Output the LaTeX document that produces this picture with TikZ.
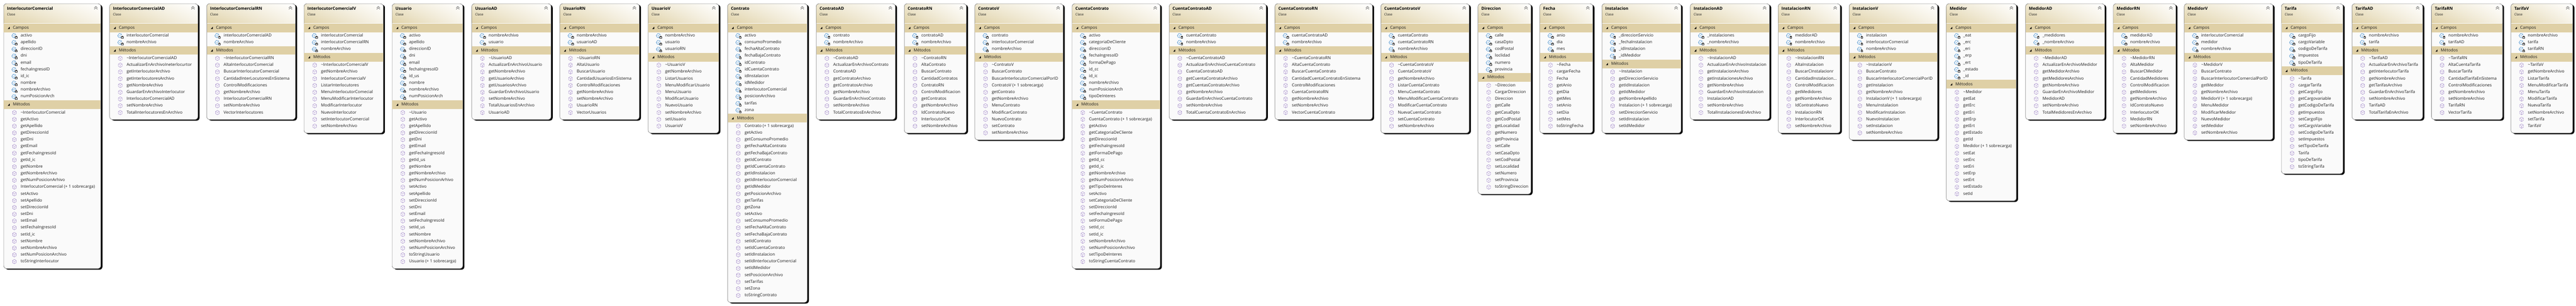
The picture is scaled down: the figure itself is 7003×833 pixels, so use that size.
\documentclass[tikz,border=0pt]{standalone}
\usepackage{fontspec}
\setmainfont{Open Sans}
\usetikzlibrary{shadings}

\definecolor{hdrtan}{HTML}{E0D2A8}
\definecolor{hdrpale}{HTML}{EFE8D2}
\definecolor{hdrlight}{HTML}{F7F3E8}
\definecolor{bandtan}{HTML}{DFD0A6}
\definecolor{bodygrey}{HTML}{FAFAFA}
\definecolor{edgegrey}{HTML}{7F7F7F}
\definecolor{inktext}{HTML}{1E1E1E}
\definecolor{fieldblue}{HTML}{4A90CC}
\definecolor{methodpurple}{HTML}{9A80C2}

\newcommand{\threedots}{...}

\tikzset{
    titletxt/.style={anchor=west,inner sep=0pt,text=black,font=\fontsize{11.3}{13}\selectfont\bfseries,text height=9pt,text depth=3pt},
    kindtxt/.style={anchor=west,inner sep=0pt,text=inktext,font=\fontsize{9}{10}\selectfont,text height=7pt,text depth=2pt},
    rowtxt/.style={anchor=west,inner sep=0pt,text=inktext,font=\fontsize{11.3}{13}\selectfont,text height=9pt,text depth=3pt},
    fieldicon/.pic={
        \draw[fieldblue,line width=0.9pt,fill=white,line join=round] (-7,0) -- (-3,-5.5) -- (3,-4.5) -- (4,1) -- (0,6) -- (-5,4) -- cycle;
        \draw[fieldblue,line width=0.5pt] (-7,0) -- (-1,0) -- (3,-4.5) (-1,0) -- (0,6);
        \fill[white] (1.5,0) rectangle (8.5,7.5);
        \draw[black!80,line width=0.5pt] (2.5,3) rectangle (7.5,7);
        \draw[black!80,line width=0.5pt] (3.5,3) -- (3.5,0.8) -- (6.5,0.8) -- (6.5,3);
    },
    methodicon/.pic={
        \draw[methodpurple,line width=0.7pt,fill=white,line join=round] (0,-6) -- (5,-3) -- (5,3) -- (0,6) -- (-5,3) -- (-5,-3) -- cycle;
        \draw[methodpurple,line width=0.5pt] (-5,-3) -- (0,0) -- (5,-3) (0,0) -- (0,6);
    },
}

% #1 id, #2 title, #3 left, #4 right, #5 fields, #6 methods
\newcommand{\classbox}[6]{%
    \foreach \fld [count=\i] in {#5} {\xdef\nfld{\i}}
    \foreach \mth [count=\i] in {#6} {\xdef\nmth{\i}}
    \pgfmathsetmacro\bandtop{97+(\nfld-1)*18.45+10}
    \pgfmathsetmacro\firstrow{\bandtop+33.5}
    \pgfmathsetmacro\boxbot{\firstrow+(\nmth-1)*18.45+19}
    % shadow, body and header
    \fill[black,rounded corners=8pt] (#3+4.5,13) rectangle (#4+4.5,\boxbot+3);
    \fill[bodygrey,rounded corners=8pt] (#3,10) rectangle (#4,\boxbot);
    \shade[lower left=hdrtan,lower right=hdrlight,upper left=hdrpale,upper right=white]
        (#3,63) [rounded corners=8pt] -- (#3,10) -- (#4,10) [sharp corners] -- (#4,63) -- cycle;
    \draw[edgegrey,line width=0.9pt,rounded corners=8pt] (#3,10) rectangle (#4,\boxbot);
    \draw[black!65,line width=0.9pt] (#4-18,21.5) -- (#4-13.5,17.5) -- (#4-9,21.5) (#4-18,25.5) -- (#4-13.5,21.5) -- (#4-9,25.5);
    \node[titletxt] (#1-title) at (#3+9,23.7) {#2};
    \node[kindtxt] (#1-kind) at (#3+9,39.7) {Clase};
    % Campos
    \fill[bandtan] (#3+0.5,64) rectangle (#4-0.5,88);
    \fill[black] (#3+16.5,73) -- (#3+16.5,79) -- (#3+11,79) -- cycle;
    \node[rowtxt] (#1-campos) at (#3+25,76) {Campos};
    \foreach \fld [count=\i] in {#5} {
        \pgfmathsetmacro\yrow{97+(\i-1)*18.45}
        \pic at (#3+29,\yrow) {fieldicon};
        \node[rowtxt] (#1-f\i) at (#3+46,\yrow) {\fld};
    }
    % Metodos
    \fill[bandtan] (#3+0.5,\bandtop) rectangle (#4-0.5,\bandtop+23.5);
    \fill[black] (#3+16.5,\bandtop+9) -- (#3+16.5,\bandtop+15) -- (#3+11,\bandtop+15) -- cycle;
    \node[rowtxt] (#1-metodos) at (#3+25,\bandtop+12) {Métodos};
    \foreach \mth [count=\i] in {#6} {
        \pgfmathsetmacro\yrow{\firstrow+(\i-1)*18.45}
        \pic at (#3+29,\yrow) {methodicon};
        \node[rowtxt] (#1-m\i) at (#3+46,\yrow) {\mth};
    }
}

\begin{document}
\begin{tikzpicture}[x=1pt,y=-1pt]
    \useasboundingbox (0,0) rectangle (7003,833);

    \classbox{ic}{InterlocutorComercial}{10}{274}
        {activo,apellido,direccionID,dni,email,fechaIngresoID,id\_ic,nombre,nombreArchivo,numPosicionArch}
        {\textasciitilde InterlocutorComercial,getActivo,getApellido,getDireccionId,getDni,getEmail,getFechaIngresoId,getId\_ic,getNombre,getNombreArchivo,getNumPosicionArhivo,InterlocutorComercial (+ 1 sobrecarga),setActivo,setApellido,setDireccionId,setDni,setEmail,setFechaIngresoId,setId\_ic,setNombre,setNombreArchivo,setNumPosicionArchivo,toStringInterlocutor}
    \classbox{icad}{InterlocutorComercialAD}{298}{538}
        {interlocutorComercial,nombreArchivo}
        {\textasciitilde InterlocutorComercialAD,ActualizarEnArchivoIneterlocurtor,getInterlocutorArchivo,getInterlocutoresArchivo,getNombreArchivo,GuardarEnArchivoInterlocutor,InterlocutorComercialAD,setNombreArchivo,TotalInterlocutoresEnArchivo}
    \classbox{icrn}{InterlocutorComercialRN}{562}{803}
        {interlocutorComercialAD,nombreArchivo}
        {\textasciitilde InterlocutorComercialRN,AltaInterlocutorComercial,BuscarInterlocutorComercial,CantidadInterLocutoresEnSistema,ControlModificaciones,getNombreArchivo,InterlocutorComercialRN,setNombreArchivo,VectorInterlocutores}
    \classbox{icv}{InterlocutorComercialV}{826.5}{1042}
        {interlocutorComercial,interlocutorComercialRN,nombreArchivo}
        {\textasciitilde InterlocutorComercialV,getNombreArchivo,InterlocutorComercialV,ListarInterlocutores,MenuInterlocutorComecial,MenuModificarInterlocutor,ModificarInterlocutor,NuevoInterlocutor,setInterlocutorComercial,setNombreArchivo}

    \classbox{us}{Usuario}{1066}{1258}
        {activo,apellido,direccionID,dni,email,fechaIngresoID,id\_us,nombre,nombreArchivo,numPosicionArch}
        {\textasciitilde Usuario,getActivo,getApellido,getDireccionId,getDni,getEmail,getFechaIngresoId,getId\_us,getNombre,getNombreArchivo,getNumPosicionArhivo,setActivo,setApellido,setDireccionId,setDni,setEmail,setFechaIngresoId,setId\_us,setNombre,setNombreArchivo,setNumPosicionArchivo,toStringUsuario,Usuario (+ 1 sobrecarga)}
    \classbox{usad}{UsuarioAD}{1282.5}{1498}
        {nombreArchivo,usuario}
        {\textasciitilde UsuarioAD,ActualizarEnArchivoUsuario,getNombreArchivo,getUsuarioArchivo,getUsuariosArchivo,GuardarEnArchivoUsuario,setNombreArchivo,TotalUsuariosEnArchivo,UsuarioAD}
    \classbox{usrn}{UsuarioRN}{1522}{1738}
        {nombreArchivo,usuarioAD}
        {\textasciitilde UsuarioRN,AltaUsuario,BuscarUsuario,CantidadUsuariosEnSistema,ControlModificaciones,getNombreArchivo,setNombreArchivo,UsuarioRN,VectorUsuarios}
    \classbox{usv}{UsuarioV}{1762}{1954}
        {nombreArchivo,usuario,usuarioRN}
        {\textasciitilde UsuarioV,getNombreArchivo,ListarUsuarios,MenuModificarUsuario,MenuUsuario,ModificarUsuario,NuevoUsuario,setNombreArchivo,setUsuario,UsuarioV}

    \classbox{co}{Contrato}{1978}{2194.5}
        {activo,consumoPromedio,fechaAltaContrato,fechaBajaContrato,idContrato,idCuentaContrato,idInstalacion,idMedidor,interlocutorComercial,posicionArchivo,tarifas,zona}
        {Contrato (+ 1 sobrecarga),getActivo,getConsumoPromedio,getFechaAltaContrato,getFechaBajaContrato,getIdContrato,getIdCuentaContrato,getIdInstalacion,getIdInterlocutorComercial,getIdMedidor,getPosicionArchivo,getTarifas,getZona,setActivo,setConsumoPromedio,setFechaAltaContrato,setFechaBajaContrato,setIdContrato,setIdCuentaContrato,setIdInstalacion,setIdInterlocutorComercial,setIdMedidor,setPoscicionArchivo,setTarifas,setZona,toStringContrato}
    \classbox{coad}{ContratoAD}{2219}{2434}
        {contrato,nombreArchivo}
        {\textasciitilde ContratoAD,ActualizarEnArchivoContrato,ContratoAD,getContratoArchivo,getContratosArchivo,getNombreArchivo,GuardarEnArchivoContrato,setNombreArchivo,TotalContratosEnArchivo}
    \classbox{corn}{ContratoRN}{2458.5}{2627}
        {contratoAD,nombreArchivo}
        {\textasciitilde ContratoRN,AltaContrato,BuscarContrato,CantidadContratos,ContratoRN,ControlModificacion,getContratos,getNombreArchivo,IdContratoNuevo,InterlocutorOK,setNombreArchivo}
    \classbox{cov}{ContratoV}{2650}{2890}
        {contrato,interlocutorComercial,nombreArchivo}
        {\textasciitilde ContratoV,BuscarContrato,BuscarInterlocutorComercialPorID,ContratoV (+ 1 sobrecarga),getContrato,getNombreArchivo,MenuContrato,ModificarContrato,NuevoContrato,setContrato,setNombreArchivo}

    \classbox{cc}{CuentaContrato}{2914.5}{3154}
        {activo,categoriaDeCliente,direccionID,fechaIngresoID,formaDePago,id\_cc,id\_ic,nombreArchivo,numPosicionArch,tipoDeInteres}
        {\textasciitilde CuentaContrato,CuentaContrato (+ 1 sobrecarga),getActivo,getCategoriaDeCliente,getDireccionId,getFechaIngresoId,getFormaDePago,getId\_cc,getId\_ic,getNombreArchivo,getNumPosicionArhivo,getTipoDeInteres,setActivo,setCategoriaDeCliente,setDireccionId,setFechaIngresoId,setFormaDePago,setId\_cc,setId\_ic,setNombreArchivo,setNumPosicionArchivo,setTipoDeInteres,toStringCuentaContrato}
    \classbox{ccad}{CuentaContratoAD}{3178.5}{3442}
        {cuentaContrato,nombreArchivo}
        {\textasciitilde CuentaContratoAD,ActualizarEnArchivoCuentaContrato,CuentaContratoAD,getCuentaContratoArchivo,getCuentasContratoArchivo,getNombreArchivo,GuardarEnArchivoCuentaContrato,setNombreArchivo,TotalCuentaContratoEnArchivo}
    \classbox{ccrn}{CuentaContratoRN}{3466}{3731}
        {cuentaContratoAD,nombreArchivo}
        {\textasciitilde CuentaContratoRN,AltaCuentaContrato,BuscarCuentaContrato,CantidadCuentaContratoEnSistema,ControlModificaciones,CuentaContratoRN,getNombreArchivo,setNombreArchivo,VectorCuentaContrato}
    \classbox{ccv}{CuentaContratoV}{3754}{3994}
        {cuentaContrato,cuentaContratoRN,nombreArchivo}
        {\textasciitilde CuentaContratoV,CuentaContratoV,getNombreArchivo,ListarCuentaContrato,MenuCuentaContrato,MenuModificarCuentaContrato,ModificarCuentaContrato,NuevaCuentaContrato,setCuentaContrato,setNombreArchivo}

    \classbox{dir}{Direccion}{4018}{4162}
        {calle,casaDpto,codPostal,loclidad,numero,provincia}
        {\textasciitilde Direccion,CargarDireccion,Direccion,getCalle,getCasaDpto,getCodPostal,getLocalidad,getNumero,getProvincia,setCalle,setCasaDpto,setCodPostal,setLocalidad,setNumero,setProvincia,toStringDireccion}
    \classbox{fe}{Fecha}{4186}{4330}
        {anio,dia,mes}
        {\textasciitilde Fecha,cargarFecha,Fecha,getAnio,getDia,getMes,setAnio,setDia,setMes,toStringFecha}

    \classbox{in}{Instalacion}{4355}{4570}
        {\_direccionServicio,\_fechaInstalacion,\_idInstalacion,\_idMedidor}
        {\textasciitilde Instalacion,getDireccionServicio,getIdInstalacion,getIdMedidor,getNombreApellido,Instalacion (+ 1 sobrecarga),setDireccionServicio,setIdInstalacion,setIdMedidor}
    \classbox{inad}{InstalacionAD}{4595}{4810.5}
        {\_instalaciones,\_nombreArchivo}
        {\textasciitilde InstalacionAD,ActualizarEnArchivoInstalacion,getInstalacionArchivo,getInstalacionesArchivo,getNombreArchivo,GuardarEnArchivoInstalacion,InstalacionAD,setNombreArchivo,TotalInstalacionesEnArchivo}
    \classbox{inrn}{InstalacionRN}{4834}{5002.5}
        {medidorAD,nombreArchivo}
        {\textasciitilde InstalacionRN,AltaInstalacion,BuscarCInstalacionr,CantidadInstalacion\threedots,ControlModificacion,getMedidores,getNombreArchivo,IdContratoNuevo,InstalacionRN,InterlocutorOK,setNombreArchivo}
    \classbox{inv}{InstalacionV}{5027}{5267}
        {instalacion,interlocutorComercial,nombreArchivo}
        {\textasciitilde InstalacionV,BuscarContrato,BuscarInterlocutorComercialPorID,getInstalacion,getNombreArchivo,InstalacionV (+ 1 sobrecarga),MenuInstalacion,ModificarInstalacion,NuevoInstalacion,setInstalacion,setNombreArchivo}

    \classbox{me}{Medidor}{5291}{5481.5}
        {\_eat,\_erc,\_eri,\_erp,\_ert,\_estado,\_id}
        {\textasciitilde Medidor,getEat,getErc,getEri,getErp,getErt,getEstado,getId,Medidor (+ 1 sobrecarga),setEat,setErc,setEri,setErp,setErt,setEstado,setId}
    \classbox{mead}{MedidorAD}{5506.5}{5721.5}
        {\_medidores,\_nombreArchivo}
        {\textasciitilde MedidorAD,ActualizarEnArchivoMedidor,getMedidorArchivo,getMedidoresArchivo,getNombreArchivo,GuardarEnArchivoMedidor,MedidorAD,setNombreArchivo,TotalMedidoresEnArchivo}
    \classbox{mern}{MedidorRN}{5745}{5915}
        {medidorAD,nombreArchivo}
        {\textasciitilde MedidorRN,AltaMedidor,BuscarCMedidor,CantidadMedidores,ControlModificacion,getMedidores,getNombreArchivo,IdContratoNuevo,InterlocutorOK,MedidorRN,setNombreArchivo}
    \classbox{mev}{MedidorV}{5938}{6179}
        {interlocutorComercial,medidor,nombreArchivo}
        {\textasciitilde MedidorV,BuscarContrato,BuscarInterlocutorComercialPorID,getMedidor,getNombreArchivo,MedidorV (+ 1 sobrecarga),MenuMedidor,ModificarMedidor,NuevoMedidor,setMedidor,setNombreArchivo}

    \classbox{ta}{Tarifa}{6202}{6369.5}
        {cargoFijo,cargoVariable,codigoDeTarifa,impuestos,tipoDeTarifa}
        {\textasciitilde Tarifa,cargarTarifa,getCargoFijo,getCargovariable,getCodigoDeTarifa,getImpuestos,setCargoFijo,setCargoVariable,setCodigoDeTarifa,setImpuestos,setTipoDeTarifa,Tarifa,tipoDeTarifa,toStringTarifa}
    \classbox{taad}{TarifaAD}{6394}{6586}
        {nombreArchivo,tarifa}
        {\textasciitilde TarifaAD,ActualizarEnArchivoTarifa,getInterlocutorTarifa,getNombreArchivo,getTarifasArchivo,GuardarEnArchivoTarifa,setNombreArchivo,TarifaAD,TotalTarifaEnArchivo}
    \classbox{tarn}{TarifaRN}{6610}{6803}
        {nombreArchivo,tarifaAD}
        {\textasciitilde TarifaRN,AltaCuentaTarifa,BuscarTarifa,CantidadTarifaEnSistema,ControlModificaciones,getNombreArchivo,setNombreArchivo,TarifaRN,VectorTarifa}
    \classbox{tav}{TarifaV}{6826}{6994}
        {nombreArchivo,tarifa,tarifaRN}
        {\textasciitilde TarifaV,getNombreArchivo,ListarTarifa,MenuModificarTarifa,MenuTarifa,ModificarTarifa,NuevaTarifa,setNombreArchivo,setTarifa,TarifaV}
\end{tikzpicture}
\end{document}
